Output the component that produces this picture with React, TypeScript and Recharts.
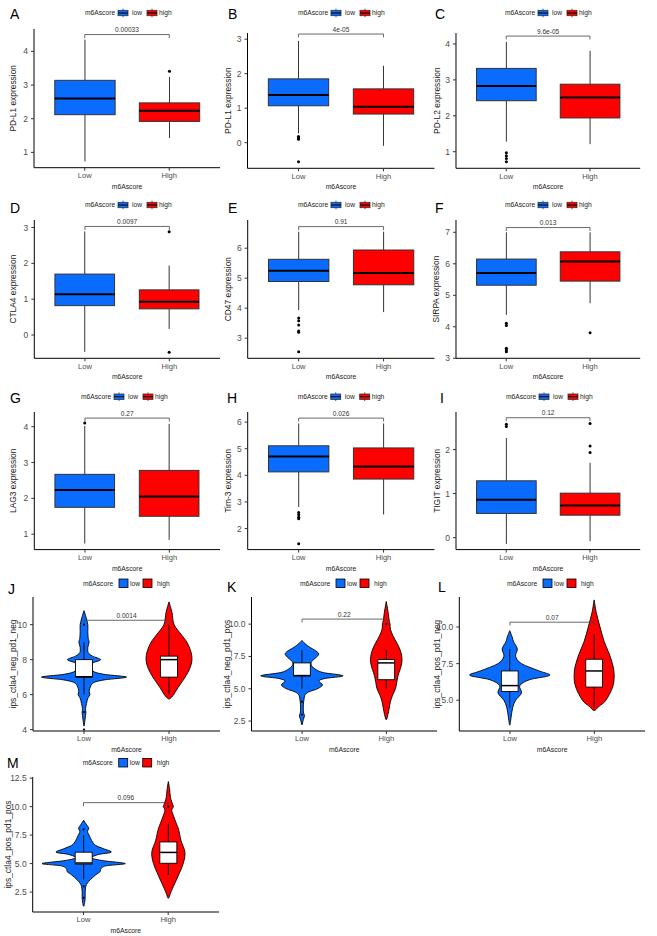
import React from 'react';
import { ComposedChart, Bar, XAxis, YAxis, ReferenceLine } from 'recharts';

const FONT = '"Liberation Sans", Arial, Helvetica, sans-serif';
const LOW_COLOR = '#0a6cff';
const HIGH_COLOR = '#ff0000';

// ---------- categories / labels ----------
const groups = ['Low', 'High'];
const legendLabels = ['low', 'high'];
const legendTitle = 'm6Ascore';
const xTitle = 'm6Ascore';
const panelLetters = ['A', 'B', 'C', 'D', 'E', 'F', 'G', 'H', 'I', 'J', 'K', 'L', 'M'];
const yTitles = [
  'PD-L1 expression', 'PD-L1 expression', 'PD-L2 expression',
  'CTLA4 expression', 'CD47 expression', 'SIRPA expression',
  'LAG3 expression', 'Tim-3 expression', 'TIGIT expression',
  'ips_ctla4_neg_pd1_neg', 'ips_ctla4_neg_pd1_pos', 'ips_ctla4_pos_pd1_neg', 'ips_ctla4_pos_pd1_pos',
];
const pValues = ['0.00033', '4e-05', '9.6e-05', '0.0097', '0.91', '0.013', '0.27', '0.026', '0.12', '0.0014', '0.22', '0.07', '0.096'];
const bracketValues = [4.5, 3.15, 4.22, 3.03, 6.72, 7.15, 4.24, 6.15, 2.72, 10.25, 10.39, 10.33, 10.35];
const yTicks = [
  [1, 2, 3, 4], [0, 1, 2, 3], [1, 2, 3, 4],
  [0, 1, 2, 3], [3, 4, 5, 6], [3, 4, 5, 6, 7],
  [1, 2, 3, 4], [2, 3, 4, 5, 6], [0, 1, 2],
  [4, 6, 8, 10], [2.5, 5, 7.5, 10], [5, 7.5, 10], [2.5, 5, 7.5, 10, 12.5],
];

// ---------- box statistics [whiskerLow, Q1, median, Q3, whiskerHigh] ----------
const pdl1aLow = [0.73, 2.12, 2.6, 3.14, 4.35];
const pdl1aHigh = [1.43, 1.92, 2.24, 2.47, 3.24];
const pdl1bLow = [0.27, 1.07, 1.38, 1.85, 2.95];
const pdl1bHigh = [-0.09, 0.83, 1.04, 1.56, 2.23];
const pdl2Low = [1.28, 2.42, 2.83, 3.32, 4.06];
const pdl2High = [1.21, 1.94, 2.51, 2.88, 3.81];
const ctla4Low = [-0.47, 0.82, 1.14, 1.7, 2.89];
const ctla4High = [0.17, 0.73, 0.93, 1.26, 1.94];
const cd47Low = [3.94, 4.89, 5.25, 5.63, 6.55];
const cd47High = [3.87, 4.78, 5.17, 5.94, 6.55];
const sirpaLow = [4.38, 5.32, 5.71, 6.15, 7.0];
const sirpaHigh = [4.75, 5.45, 6.07, 6.38, 7.0];
const lag3Low = [0.74, 1.75, 2.23, 2.67, 4.02];
const lag3High = [0.84, 1.5, 2.05, 2.78, 4.08];
const tim3Low = [2.81, 4.13, 4.71, 5.11, 5.95];
const tim3High = [2.53, 3.86, 4.33, 5.03, 5.95];
const tigitLow = [-0.14, 0.55, 0.86, 1.29, 2.26];
const tigitHigh = [-0.08, 0.51, 0.73, 1.01, 1.7];
const ipsNNLow = [6, 7, 7.02, 8, 9];
const ipsNNHigh = [6, 7, 8, 8.2, 10];
const ipsNPLow = [5, 6, 6.02, 7, 8];
const ipsNPHigh = [5, 5.7, 7, 7.27, 8];
const ipsPNLow = [4.5, 5.6, 6.0, 7.0, 8.5];
const ipsPNHigh = [4.5, 5.9, 7.0, 7.8, 9.5];
const ipsPPLow = [3.6, 4.95, 5.05, 6.0, 7.5];
const ipsPPHigh = [4, 5.03, 5.98, 6.9, 8.5];

// ---------- outliers ----------
const pdl1aLowOut: number[] = [];
const pdl1aHighOut = [3.41];
const pdl1bLowOut = [0.18, 0.14, 0.1, -0.55];
const pdl1bHighOut: number[] = [];
const pdl2LowOut = [0.97, 0.89, 0.81, 0.72];
const pdl2HighOut: number[] = [];
const ctla4LowOut: number[] = [];
const ctla4HighOut = [2.88, -0.48];
const cd47LowOut = [3.67, 3.58, 3.44, 3.24, 3.2, 2.55];
const cd47HighOut: number[] = [];
const sirpaLowOut = [4.11, 4.04, 3.32, 3.26, 3.21];
const sirpaHighOut = [3.81];
const lag3LowOut = [4.1];
const lag3HighOut: number[] = [];
const tim3LowOut = [2.6, 2.52, 2.43, 2.37, 1.43];
const tim3HighOut: number[] = [];
const tigitLowOut = [2.57, 2.52];
const tigitHighOut = [2.08, 1.93, 2.59];
const ipsNNLowOut = [10, 5, 4];
const ipsNNHighOut: number[] = [];
const ipsNPLowOut = [4, 3];
const ipsNPHighOut = [10];
const ipsPNLowOut: number[] = [];
const ipsPNHighOut: number[] = [];
const ipsPPLowOut = [8, 3, 2];
const ipsPPHighOut = [10];

// ---------- violin outlines [value, relative half width] ----------
const ipsNNLowViolin = [[10.8, 0], [10.4, 0.05], [10.0, 0.09], [9.6, 0.09], [9.2, 0.1], [9.0, 0.12], [8.7, 0.09], [8.4, 0.1], [8.2, 0.2], [8.0, 0.39], [7.8, 0.2], [7.55, 0.14], [7.3, 0.24], [7.15, 0.5], [7.0, 1.0], [6.85, 0.5], [6.7, 0.24], [6.5, 0.16], [6.2, 0.12], [6.0, 0.14], [5.8, 0.09], [5.5, 0.06], [5.2, 0.035], [5.0, 0.045], [4.8, 0.035], [4.5, 0.02], [4.2, 0]];
const ipsNNHighViolin = [[11.3, 0], [10.7, 0.07], [10.0, 0.12], [9.4, 0.3], [9.0, 0.42], [8.5, 0.51], [8.0, 0.54], [7.5, 0.49], [7.0, 0.38], [6.5, 0.24], [6.2, 0.16], [6.0, 0.11], [5.85, 0.06], [5.75, 0]];
const ipsNPLowViolin = [[8.74, 0], [8.5, 0.07], [8.2, 0.19], [8.0, 0.3], [7.7, 0.4], [7.4, 0.33], [7.1, 0.23], [6.8, 0.23], [6.5, 0.33], [6.25, 0.51], [6.0, 0.98], [5.8, 0.56], [5.6, 0.4], [5.3, 0.49], [5.0, 0.37], [4.75, 0.16], [4.5, 0.07], [4.2, 0.05], [3.8, 0.035], [3.2, 0.035], [2.9, 0.06], [2.6, 0.03], [2.2, 0]];
const ipsNPHighViolin = [[11.75, 0], [11.0, 0.04], [10.3, 0.07], [10.0, 0.09], [9.6, 0.1], [9.1, 0.16], [8.5, 0.26], [8.0, 0.33], [7.5, 0.37], [7.0, 0.37], [6.5, 0.33], [6.0, 0.28], [5.5, 0.25], [5.0, 0.22], [4.5, 0.15], [4.0, 0.1], [3.5, 0.07], [3.0, 0.04], [2.6, 0]];
const ipsPNLowViolin = [[9.75, 0], [9.3, 0.06], [9.0, 0.09], [8.5, 0.18], [8.0, 0.14], [7.5, 0.28], [7.0, 0.7], [6.7, 0.95], [6.4, 0.47], [6.0, 0.24], [5.5, 0.28], [5.0, 0.14], [4.5, 0.07], [3.8, 0.03], [3.3, 0]];
const ipsPNHighViolin = [[11.85, 0], [11.0, 0.05], [10.0, 0.14], [9.0, 0.24], [8.0, 0.38], [7.0, 0.47], [6.0, 0.45], [5.0, 0.28], [4.6, 0.12], [4.3, 0]];
const ipsPPLowViolin = [[8.8, 0], [8.4, 0.07], [8.1, 0.12], [7.8, 0.09], [7.4, 0.14], [7.0, 0.19], [6.6, 0.28], [6.3, 0.47], [6.0, 0.65], [5.8, 0.35], [5.5, 0.19], [5.25, 0.47], [5.0, 0.98], [4.8, 0.52], [4.5, 0.4], [4.3, 0.39], [4.0, 0.28], [3.6, 0.16], [3.3, 0.09], [3.0, 0.05], [2.5, 0.035], [2.0, 0.035], [1.6, 0.024], [1.25, 0]];
const ipsPPHighViolin = [[12.2, 0], [11.5, 0.03], [10.8, 0.05], [10.2, 0.1], [10.0, 0.12], [9.7, 0.08], [9.2, 0.12], [8.5, 0.19], [8.0, 0.24], [7.0, 0.3], [6.0, 0.39], [5.0, 0.35], [4.0, 0.24], [3.0, 0.12], [2.4, 0.05], [1.95, 0]];

const lowStats = [pdl1aLow, pdl1bLow, pdl2Low, ctla4Low, cd47Low, sirpaLow, lag3Low, tim3Low, tigitLow, ipsNNLow, ipsNPLow, ipsPNLow, ipsPPLow];
const highStats = [pdl1aHigh, pdl1bHigh, pdl2High, ctla4High, cd47High, sirpaHigh, lag3High, tim3High, tigitHigh, ipsNNHigh, ipsNPHigh, ipsPNHigh, ipsPPHigh];
const lowOut = [pdl1aLowOut, pdl1bLowOut, pdl2LowOut, ctla4LowOut, cd47LowOut, sirpaLowOut, lag3LowOut, tim3LowOut, tigitLowOut, ipsNNLowOut, ipsNPLowOut, ipsPNLowOut, ipsPPLowOut];
const highOut = [pdl1aHighOut, pdl1bHighOut, pdl2HighOut, ctla4HighOut, cd47HighOut, sirpaHighOut, lag3HighOut, tim3HighOut, tigitHighOut, ipsNNHighOut, ipsNPHighOut, ipsPNHighOut, ipsPPHighOut];
const lowViolins = [ipsNNLowViolin, ipsNPLowViolin, ipsPNLowViolin, ipsPPLowViolin];
const highViolins = [ipsNNHighViolin, ipsNPHighViolin, ipsPNHighViolin, ipsPPHighViolin];

// ---------- layout (page pixels) ----------
type Layout = { x0: number; x1: number; y0: number; y1: number; colX: number; titleX: number; domain: [number, number]; legX: number; legY: number; letX: number; letY: number };
const layouts: Layout[] = [
  { x0: 34, x1: 220, y0: 29.3, y1: 168, colX: 0, titleX: 12.7, domain: [0.545, 4.665], legX: 85, legY: 13, letX: 10, letY: 19 },
  { x0: 247.5, x1: 434.5, y0: 33, y1: 168.3, colX: 215, titleX: 228.3, domain: [-0.743, 3.18], legX: 298, legY: 13, letX: 228, letY: 19 },
  { x0: 456, x1: 640.2, y0: 33, y1: 168.3, colX: 430, titleX: 436.7, domain: [0.538, 4.306], legX: 505, legY: 13, letX: 435, letY: 19 },
  { x0: 34.3, x1: 220, y0: 220, y1: 358.3, colX: 0, titleX: 12.7, domain: [-0.65, 3.21], legX: 85, legY: 205, letX: 10, letY: 213 },
  { x0: 247.7, x1: 434.5, y0: 220, y1: 358.3, colX: 215, titleX: 228.3, domain: [2.33, 6.94], legX: 298, legY: 205, letX: 228, letY: 213 },
  { x0: 456, x1: 640.2, y0: 220, y1: 358.3, colX: 430, titleX: 436, domain: [3.0, 7.39], legX: 505, legY: 205, letX: 435, letY: 213 },
  { x0: 34.3, x1: 220, y0: 411.7, y1: 549.3, colX: 0, titleX: 12.7, domain: [0.57, 4.41], legX: 81, legY: 396.7, letX: 10, letY: 403 },
  { x0: 247.7, x1: 434.5, y0: 411.7, y1: 549.3, colX: 215, titleX: 228.3, domain: [1.21, 6.38], legX: 297.7, legY: 396.7, letX: 227, letY: 403 },
  { x0: 456, x1: 640.2, y0: 411.7, y1: 549.3, colX: 430, titleX: 436.7, domain: [-0.27, 2.85], legX: 506, legY: 396.7, letX: 440, letY: 403 },
  { x0: 33, x1: 220, y0: 596.7, y1: 730.7, colX: 0, titleX: 12.7, domain: [3.92, 11.58], legX: 83, legY: 583.3, letX: 8, letY: 594 },
  { x0: 251.5, x1: 437, y0: 596.7, y1: 730.7, colX: 215, titleX: 226.7, domain: [1.73, 12.1], legX: 300, legY: 583.3, letX: 227, letY: 592 },
  { x0: 459.3, x1: 645, y0: 596.7, y1: 730.7, colX: 430, titleX: 437, domain: [2.9, 12.05], legX: 507, legY: 583.3, letX: 438, letY: 592 },
  { x0: 32.7, x1: 219, y0: 776.7, y1: 911.7, colX: 0, titleX: 8.3, domain: [0.75, 12.6], legX: 82.7, legY: 762.7, letX: 7, letY: 768 },
];

function smoothPath(pts: number[][]) {
  let d = `M${pts[0][0]},${pts[0][1]}`;
  for (let i = 0; i < pts.length - 1; i++) {
    const p0 = pts[i - 1] || pts[i];
    const p1 = pts[i];
    const p2 = pts[i + 1];
    const p3 = pts[i + 2] || p2;
    const c1x = p1[0] + (p2[0] - p0[0]) / 6;
    const c1y = p1[1] + (p2[1] - p0[1]) / 6;
    const c2x = p2[0] - (p3[0] - p1[0]) / 6;
    const c2y = p2[1] - (p3[1] - p1[1]) / 6;
    d += ` C${c1x},${c1y} ${c2x},${c2y} ${p2[0]},${p2[1]}`;
  }
  return d + ' Z';
}

const makeShape = (violin: boolean) => (props: any) => {
  const { x, y, width, height, payload } = props;
  if (!payload || width == null) return <g />;
  const [lo, hi] = payload.range;
  const top = Math.min(y, y + height);
  const h = Math.abs(height);
  const pix = (v: number) => top + ((hi - v) / (hi - lo)) * h;
  const cx = x + width / 2;
  const half = width / 2;
  const [wl, q1, med, q3, wh] = payload.stats;
  const bh = half * (violin ? 0.2 : 0.71);
  const outs: number[] = payload.outliers;
  if (!violin) {
    return (
      <g>
        <line x1={cx} x2={cx} y1={pix(wh)} y2={pix(q3)} stroke="#333" strokeWidth={1} />
        <line x1={cx} x2={cx} y1={pix(q1)} y2={pix(wl)} stroke="#333" strokeWidth={1} />
        <rect x={cx - bh} y={pix(q3)} width={bh * 2} height={pix(q1) - pix(q3)} fill={payload.color} stroke="#333" strokeWidth={1} />
        <line x1={cx - bh} x2={cx + bh} y1={pix(med)} y2={pix(med)} stroke="#000" strokeWidth={2} />
        {outs.map((o, k) => <circle key={k} cx={cx} cy={pix(o)} r={1.5} fill="#000" />)}
      </g>
    );
  }
  const vio: number[][] = payload.violin;
  const right = vio.map((p) => [cx + p[1] * half, pix(p[0])]);
  const left = vio.slice(0, -1).reverse().map((p) => [cx - p[1] * half, pix(p[0])]);
  const path = smoothPath([...right, ...left]);
  return (
    <g>
      <path d={path} fill={payload.color} stroke="#000" strokeWidth={0.9} />
      <line x1={cx} x2={cx} y1={pix(wh)} y2={pix(q3)} stroke="#000" strokeWidth={0.9} />
      <line x1={cx} x2={cx} y1={pix(q1)} y2={pix(wl)} stroke="#000" strokeWidth={0.9} />
      <rect x={cx - bh} y={pix(q3)} width={bh * 2} height={pix(q1) - pix(q3)} fill="#fff" stroke="#000" strokeWidth={0.9} />
      <line x1={cx - bh} x2={cx + bh} y1={pix(med)} y2={pix(med)} stroke="#000" strokeWidth={1.5} />
      {outs.map((o, k) => <circle key={k} cx={cx} cy={pix(o)} r={1.1} fill="#000" />)}
    </g>
  );
};

function Panel({ i }: { i: number }) {
  const L = layouts[i];
  const violin = i >= 9;
  const mt = 14;
  const mr = 4;
  const xh = 24;
  const left = L.colX;
  const top = L.y0 - mt;
  const width = L.x1 - left + mr;
  const height = L.y1 - top + xh;
  const yAxisW = L.x0 - L.colX;
  const pad = (L.x1 - L.x0) / 22;
  const data = groups.map((g, k) => {
    const stats = k === 0 ? lowStats[i] : highStats[i];
    const vio = violin ? (k === 0 ? lowViolins[i - 9] : highViolins[i - 9]) : null;
    const range = vio ? [Math.min(...vio.map((p) => p[0])), Math.max(...vio.map((p) => p[0]))] : [stats[0], stats[4]];
    return { cat: g, range, stats, outliers: k === 0 ? lowOut[i] : highOut[i], violin: vio, color: k === 0 ? LOW_COLOR : HIGH_COLOR };
  });
  const b = bracketValues[i];
  const tip = (L.domain[1] - L.domain[0]) * 0.025;
  const fmt = (v: number) => (i >= 10 ? v.toFixed(1) : String(v));
  return (
    <div style={{ position: 'absolute', left, top, width, height }}>
      <ComposedChart width={width} height={height} data={data} margin={{ top: mt, right: mr, bottom: 0, left: 0 }} barCategoryGap={0} barGap={0}>
        <XAxis
          dataKey="cat"
          type="category"
          padding={{ left: pad, right: pad }}
          height={xh}
          tickSize={3}
          tickMargin={2}
          interval={0}
          axisLine={{ stroke: '#000', strokeWidth: 1 }}
          tickLine={{ stroke: '#333' }}
          tick={{ fontSize: 7.6, fill: '#4d4d4d', fontFamily: FONT }}
          label={{ value: xTitle, position: 'insideBottom', offset: 3, fontSize: 6.8, fill: '#222', fontFamily: FONT, style: { fill: '#222' } }}
        />
        <YAxis
          type="number"
          domain={L.domain}
          ticks={yTicks[i]}
          allowDataOverflow
          width={yAxisW}
          tickSize={3}
          tickMargin={3}
          tickFormatter={fmt}
          axisLine={{ stroke: '#000', strokeWidth: 1 }}
          tickLine={{ stroke: '#333' }}
          tick={{ fontSize: 8.5, fill: '#4d4d4d', fontFamily: FONT }}
          label={{ value: yTitles[i], angle: -90, position: 'insideLeft', offset: L.titleX - L.colX, style: { textAnchor: 'middle', fill: '#222' }, fontSize: 8.4, fill: '#222', fontFamily: FONT }}
        />
        <Bar dataKey="range" shape={makeShape(violin)} isAnimationActive={false} />
        <ReferenceLine
          segment={[{ x: groups[0], y: b }, { x: groups[1], y: b }]}
          stroke="#444"
          strokeWidth={0.8}
          ifOverflow="visible"
          label={{ value: pValues[i], position: 'top', offset: 2.5, fontSize: 6.6, fill: '#333', fontFamily: FONT, style: { fill: '#333' } }}
        />
        <ReferenceLine segment={[{ x: groups[0], y: b }, { x: groups[0], y: b - tip }]} stroke="#444" strokeWidth={0.8} ifOverflow="visible" />
        <ReferenceLine segment={[{ x: groups[1], y: b }, { x: groups[1], y: b - tip }]} stroke="#444" strokeWidth={0.8} ifOverflow="visible" />
      </ComposedChart>
    </div>
  );
}

function PanelLegend({ i }: { i: number }) {
  const L = layouts[i];
  const violin = i >= 9;
  const x = L.legX;
  const y = L.legY;
  const keyOff = violin ? [36, 60] : [33, 62];
  const textOff = violin ? [47, 74] : [47, 74];
  const colors = [LOW_COLOR, HIGH_COLOR];
  return (
    <g fontFamily={FONT}>
      <text x={x} y={y + 2.4} fontSize={6.7} fill="#222">{legendTitle}</text>
      {colors.map((c, k) => (
        <g key={k}>
          {violin ? (
            <rect x={x + keyOff[k]} y={y - 4.3} width={9} height={8.6} fill={c} stroke="#000" strokeWidth={0.8} />
          ) : (
            <g>
              <line x1={x + keyOff[k] + 5} x2={x + keyOff[k] + 5} y1={y - 4.3} y2={y + 4.3} stroke="#333" strokeWidth={0.8} />
              <rect x={x + keyOff[k]} y={y - 2.7} width={10} height={5.4} fill={c} stroke="#333" strokeWidth={0.8} />
              <line x1={x + keyOff[k]} x2={x + keyOff[k] + 10} y1={y} y2={y} stroke="#000" strokeWidth={1} />
            </g>
          )}
          <text x={x + textOff[k]} y={y + 2.4} fontSize={6.7} fill="#222">{legendLabels[k]}</text>
        </g>
      ))}
    </g>
  );
}

export default function App() {
  return (
    <div style={{ position: 'absolute', left: 0, top: 0, width: 657, height: 936, background: '#fff', overflow: 'hidden', fontFamily: FONT }}>
      {layouts.map((_, i) => <Panel key={i} i={i} />)}
      <svg width={657} height={936} style={{ position: 'absolute', left: 0, top: 0, pointerEvents: 'none' }}>
        {layouts.map((L, i) => (
          <g key={i}>
            <text x={L.letX} y={L.letY} fontSize={14} fill="#000" fontFamily={FONT}>{panelLetters[i]}</text>
            <PanelLegend i={i} />
          </g>
        ))}
      </svg>
    </div>
  );
}
